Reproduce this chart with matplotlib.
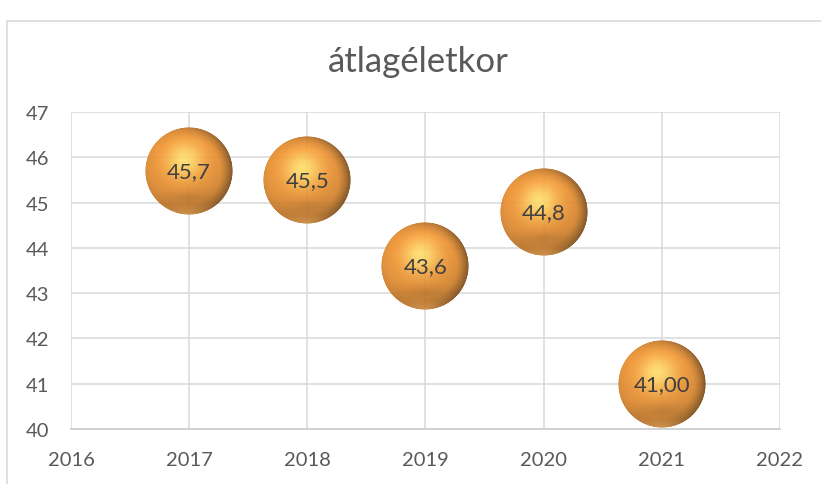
import numpy as np
import matplotlib
matplotlib.use("Agg")
import matplotlib.pyplot as plt
from matplotlib.offsetbox import OffsetImage, AnnotationBbox
from matplotlib.patches import Rectangle

# ---- data ----
years = [2017, 2018, 2019, 2020, 2021]
ages = [45.7, 45.5, 43.6, 44.8, 41.0]
labels = ["45,7", "45,5", "43,6", "44,8", "41,00"]
x_ticks = [2016, 2017, 2018, 2019, 2020, 2021, 2022]
y_ticks = [40, 41, 42, 43, 44, 45, 46, 47]
title = "átlagéletkor"

plt.rcParams['font.family'] = ['Lato', 'DejaVu Sans']

W, H = 821, 485
fig = plt.figure(figsize=(W / 100, H / 100), dpi=100)
fig.patch.set_facecolor("white")

# chart border (cropped at right/bottom)
fig.patches.append(Rectangle((7 / W, -0.2), 1.2, 1 - 22 / H + 0.2,
                             transform=fig.transFigure, fill=False,
                             edgecolor="#D9D9D9", linewidth=1.2))

ax = fig.add_axes([71 / W, 1 - 430 / H, (780 - 71) / W, (430 - 113) / H])
ax.set_xlim(2016, 2022)
ax.set_ylim(40, 47)
ax.set_xticks(x_ticks)
ax.set_yticks(y_ticks)
ax.grid(True, color="#D9D9D9", linewidth=1.1)
ax.set_axisbelow(True)
for s in ["top", "right", "left"]:
    ax.spines[s].set_visible(False)
ax.spines["bottom"].set_color("#D0D0D0")
ax.spines["bottom"].set_linewidth(1.3)
ax.tick_params(length=0, labelsize=14.5, colors="#595959", pad=16)

fig.text(418 / W, 1 - 62 / H, title, ha="center", va="center",
         fontsize=25, color="#595959")

# ---- sphere sprite ----
N = 200
g = np.linspace(-1, 1, N)
X, Y = np.meshgrid(g, -g)
R2 = X ** 2 + Y ** 2
R = np.sqrt(R2)
Z = np.sqrt(np.clip(1 - R2, 0, 1))
L = np.array([-0.2, 0.5, 0.85]); L /= np.linalg.norm(L)
diff = np.clip(X * L[0] + Y * L[1] + Z * L[2], 0, 1)
Hv = L + np.array([0, 0, 1.0]); Hv /= np.linalg.norm(Hv)
spec = np.clip(X * Hv[0] + Y * Hv[1] + Z * Hv[2], 0, 1) ** 12
base = np.array([238, 146, 48]) / 255.0
hi = np.array([255, 236, 120]) / 255.0
shade = 0.82 + 0.22 * diff
rgb = base[None, None, :] * shade[..., None]
# darker rim mostly on the right side
side = np.clip(0.35 + 0.65 * (X + 0.2), 0, 1)
rim = np.clip((R - 0.7) / 0.3, 0, 1) ** 1.5 * side
rgb = rgb * (1 - 0.4 * rim[..., None])
# dark band above bottom, then light reflection at very bottom
band = np.exp(-((Y + 0.62) / 0.16) ** 2) * np.clip(1 - np.abs(X) * 1.1, 0, 1)
rgb = rgb * (1 - 0.12 * band[..., None])
refl = np.clip((-Y - 0.78) / 0.22, 0, 1) * np.clip(1 - np.abs(X) * 1.2, 0, 1)
rgb = rgb + (np.array([250, 180, 95]) / 255.0 - rgb) * (0.5 * refl[..., None])
rgb = rgb + (hi - rgb) * spec[..., None] * 0.8
rgb = np.clip(rgb, 0, 1)
edge = np.clip((1 - R) * N / 2, 0, 1)
alpha = 0.92 * edge
img = np.dstack([rgb, alpha])

diam_pt = 88 * 72 / 100
zoom = diam_pt / N
for xv, yv, lab in zip(years, ages, labels):
    ab = AnnotationBbox(OffsetImage(img, zoom=zoom, interpolation="bilinear"),
                        (xv, yv), frameon=False, box_alignment=(0.5, 0.5),
                        zorder=3)
    ax.add_artist(ab)
    ax.text(xv, yv, lab, ha="center", va="center", fontsize=16,
            color="#404040", zorder=4)

fig.savefig("out.png", dpi=100, facecolor="white")
